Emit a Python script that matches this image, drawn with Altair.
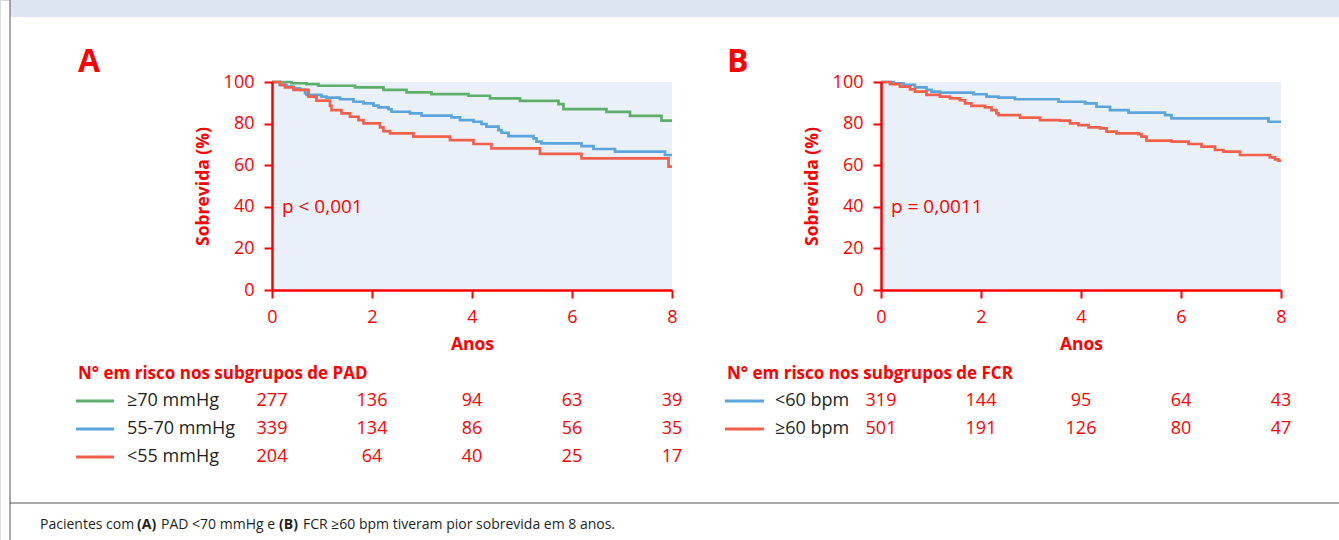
import altair as alt
import pandas as pd

# ---------------- data ----------------
# Panel A: survival by PAD subgroup (time in years, survival %)
A_GE70_T = [0, 0.39, 0.69, 0.93, 1.66, 2.23, 2.69, 3.19, 3.93, 4.36, 4.96, 5.73, 5.83, 6.69, 7.16, 7.79, 8.0]
A_GE70_S = [100, 99.4, 99.0, 98.2, 97.4, 96.2, 95.0, 94.2, 93.4, 92.1, 90.9, 89.4, 87.0, 85.6, 83.7, 81.4, 81.4]

A_55_70_T = [0, 0.16, 0.29, 0.43, 0.56, 0.66, 0.69, 0.99, 1.09, 1.36, 1.63, 1.83, 2.03, 2.13, 2.33, 2.39,
             2.76, 2.99, 3.59, 3.76, 4.03, 4.19, 4.29, 4.53, 4.59, 4.73, 5.23, 5.29, 5.39, 6.19, 6.43, 6.86, 7.86, 8.0]
A_55_70_S = [100, 98.6, 97.8, 97.0, 96.2, 94.6, 93.8, 93.0, 92.5, 91.7, 90.5, 89.7, 88.6, 87.8, 86.9, 85.7,
             84.9, 83.8, 83.0, 81.7, 80.9, 79.8, 78.5, 76.9, 75.6, 74.0, 72.9, 71.3, 70.5, 69.2, 67.8, 66.5, 64.9, 64.9]

A_LT55_T = [0, 0.16, 0.26, 0.43, 0.73, 0.89, 1.16, 1.19, 1.39, 1.56, 1.73, 1.83, 2.16, 2.23, 2.36, 2.83,
            3.56, 4.03, 4.39, 5.36, 6.19, 7.93, 8.0]
A_LT55_S = [100, 98.6, 97.4, 96.2, 93.0, 91.0, 88.5, 86.5, 84.9, 83.3, 81.7, 80.1, 78.2, 76.4, 75.3, 73.7,
            72.1, 70.2, 68.1, 65.4, 63.3, 59.3, 59.3]

# Panel B: survival by FCR subgroup
B_LT60_T = [0, 0.25, 0.45, 0.68, 0.91, 1.01, 1.18, 1.85, 2.11, 2.35, 2.68, 3.55, 4.08, 4.31, 4.58, 4.95,
            5.68, 5.81, 7.75, 8.0]
B_LT60_S = [100, 99.4, 98.6, 97.4, 96.2, 95.4, 94.9, 94.1, 93.0, 92.5, 91.7, 90.5, 89.7, 88.1, 86.5, 85.3,
            84.1, 82.5, 80.9, 80.9]

B_GE60_T = [0, 0.18, 0.38, 0.58, 0.68, 0.91, 1.18, 1.38, 1.58, 1.68, 1.81, 2.08, 2.21, 2.31, 2.35, 2.78,
            3.18, 3.58, 3.78, 3.95, 4.15, 4.38, 4.51, 4.71, 5.15, 5.21, 5.31, 5.81, 6.15, 6.41, 6.68, 6.85,
            7.18, 7.78, 7.88, 7.95, 8.0]
B_GE60_S = [100, 99.0, 97.8, 96.5, 95.4, 93.8, 93.0, 92.1, 91.3, 89.7, 88.5, 87.8, 86.5, 84.9, 84.1, 82.9,
            81.7, 81.4, 80.1, 79.3, 78.2, 77.7, 76.1, 75.3, 74.9, 73.7, 71.8, 71.3, 70.2, 68.9, 67.3, 66.5,
            64.9, 63.8, 62.8, 62.2, 62.2]

A_GROUPS = ["≥70 mmHg", "55-70 mmHg", "<55 mmHg"]
B_GROUPS = ["<60 bpm", "≥60 bpm"]
RISK_TIMES = [0, 2, 4, 6, 8]
A_RISK = [[277, 136, 94, 63, 39], [339, 134, 86, 56, 35], [204, 64, 40, 25, 17]]
B_RISK = [[319, 144, 95, 64, 43], [501, 191, 126, 80, 47]]
A_PTEXT = "p < 0,001"
B_PTEXT = "p = 0,0011"

# ---------------- styles ----------------
RED = "#FF0000"
GREEN = "#5DAF6B"
BLUE = "#5BA5DC"
SALMON = "#F2604B"
BG = "#EAF0F8"
DARK = "#231F20"
FONT = "Open Sans"
A_COLORS = [GREEN, BLUE, SALMON]
B_COLORS = [BLUE, SALMON]

W, H = 1339, 540
Y_BOT, Y_TOP = 290, 82


def series_df(groups, ts, ss):
    rows = []
    for g, t, s in zip(groups, ts, ss):
        for ti, si in zip(t, s):
            rows.append({"t": ti, "s": si, "g": g})
    return pd.DataFrame(rows)


def panel(df, groups, colors, x0, x1, ptext):
    xs = alt.Scale(domain=[0, 8], range=[x0, x1], nice=False, zero=False)
    ys = alt.Scale(domain=[0, 100], range=[Y_BOT, Y_TOP], nice=False, zero=False)
    x_axis = alt.Axis(orient="bottom", offset=Y_BOT - H, values=RISK_TIMES, grid=False,
                      domainColor=RED, domainWidth=2.5, tickColor=RED, tickWidth=2, tickSize=8,
                      labelColor=RED, labelFontSize=18, labelFont=FONT, labelPadding=10,
                      labelFlush=False,
                      title="Anos", titleColor=RED, titleFontSize=17.5, titleFont=FONT,
                      titleFontWeight="bold", titlePadding=9, zindex=1)
    y_axis = alt.Axis(orient="left", offset=-x0, values=[0, 20, 40, 60, 80, 100], grid=False,
                      domainColor=RED, domainWidth=2.5, tickColor=RED, tickWidth=2, tickSize=8,
                      labelColor=RED, labelFontSize=18, labelFont=FONT, labelPadding=10,
                      labelFlush=False,
                      title="Sobrevida (%)", titleColor=RED, titleFontSize=17.5, titleFont=FONT,
                      titleFontWeight="bold", titlePadding=11, zindex=1)
    bg = alt.Chart(pd.DataFrame({"t": [0], "t2": [8], "s": [0], "s2": [100]})).mark_rect(
        color=BG).encode(
        x=alt.X("t:Q", scale=xs, axis=x_axis), x2="t2",
        y=alt.Y("s:Q", scale=ys, axis=y_axis), y2="s2")
    lines = alt.Chart(df).mark_line(interpolate="step-after", strokeWidth=2.7).encode(
        x=alt.X("t:Q", scale=xs, axis=x_axis),
        y=alt.Y("s:Q", scale=ys, axis=y_axis),
        color=alt.Color("g:N", scale=alt.Scale(domain=groups, range=colors), legend=None),
        detail="g:N")
    ptxt = alt.Chart(pd.DataFrame({"t": [0.2], "s": [40], "label": [ptext]})).mark_text(
        align="left", baseline="middle", fontSize=19, font=FONT, color=RED).encode(
        x=alt.X("t:Q", scale=xs, axis=x_axis), y=alt.Y("s:Q", scale=ys, axis=y_axis), text="label:N")
    return alt.layer(bg, lines, ptxt)


def risk_table(groups, colors, risk, x0, x1, title, title_x, line_x0, line_x1, label_x, y_first, y_last):
    xs = alt.Scale(domain=[0, 8], range=[x0, x1], nice=False, zero=False)
    ysc = alt.Scale(type="point", domain=groups, range=[y_first, y_last], padding=0)
    rows = []
    for g, vals in zip(groups, risk):
        for t, v in zip(RISK_TIMES, vals):
            rows.append({"t": t, "g": g, "n": str(v)})
    df = pd.DataFrame(rows)
    nums = alt.Chart(df).mark_text(fontSize=18, font=FONT, color=RED, baseline="middle").encode(
        x=alt.X("t:Q", scale=xs, axis=None), y=alt.Y("g:N", scale=ysc, axis=None), text="n:N")
    gdf = pd.DataFrame({"g": groups})
    leg_lines = alt.Chart(gdf).mark_rule(strokeWidth=3).encode(
        x=alt.value(line_x0), x2=alt.value(line_x1),
        y=alt.Y("g:N", scale=ysc, axis=None),
        color=alt.Color("g:N", scale=alt.Scale(domain=groups, range=colors), legend=None))
    leg_text = alt.Chart(gdf).mark_text(fontSize=18, font=FONT, color=DARK, align="left",
                                        baseline="middle").encode(
        x=alt.value(label_x), y=alt.Y("g:N", scale=ysc, axis=None), text="g:N")
    ttl = alt.Chart(pd.DataFrame({"label": [title]})).mark_text(
        fontSize=17, font=FONT, fontWeight="bold", color=RED, align="left", baseline="middle").encode(
        x=alt.value(title_x), y=alt.value(374), text="label:N")
    return alt.layer(nums, leg_lines, leg_text, ttl).resolve_scale(color="independent")


one = pd.DataFrame({"a": [0]})

band = alt.Chart(one).mark_rect(color="#DCE6F2").encode(
    x=alt.value(10), x2=alt.value(W), y=alt.value(0), y2=alt.value(17))
vline = alt.Chart(one).mark_rule(color="#555555", strokeWidth=1).encode(
    x=alt.value(10), y=alt.value(0), y2=alt.value(H))
hline = alt.Chart(one).mark_rule(color="#555555", strokeWidth=1).encode(
    x=alt.value(10), x2=alt.value(W), y=alt.value(503))

letters = alt.layer(
    alt.Chart(pd.DataFrame({"l": ["A"]})).mark_text(fontSize=32, font=FONT, fontWeight="bold",
                                                    color=RED, align="left", baseline="alphabetic").encode(
        x=alt.value(78), y=alt.value(72), text="l:N"),
    alt.Chart(pd.DataFrame({"l": ["B"]})).mark_text(fontSize=32, font=FONT, fontWeight="bold",
                                                    color=RED, align="left", baseline="alphabetic").encode(
        x=alt.value(727), y=alt.value(72), text="l:N"),
)

FOOT_SEGS = ["Pacientes com", "(A)", "PAD <70 mmHg e", "(B)", "FCR ≥60 bpm tiveram pior sobrevida em 8 anos."]
FOOT_BOLD = [False, True, False, True, False]
FOOT_X = [40, 137, 161, 279, 303]
foot_layers = []
for seg, b, xp in zip(FOOT_SEGS, FOOT_BOLD, FOOT_X):
    foot_layers.append(
        alt.Chart(pd.DataFrame({"s": [seg]})).mark_text(
            fontSize=14, font=FONT, fontWeight="bold" if b else "normal", color=DARK,
            align="left", baseline="middle").encode(x=alt.value(xp), y=alt.value(525), text="s:N"))
footer = alt.layer(*foot_layers)

dfA = series_df(A_GROUPS, [A_GE70_T, A_55_70_T, A_LT55_T], [A_GE70_S, A_55_70_S, A_LT55_S])
dfB = series_df(B_GROUPS, [B_LT60_T, B_GE60_T], [B_LT60_S, B_GE60_S])

panelA = panel(dfA, A_GROUPS, A_COLORS, 272, 672, A_PTEXT)
panelB = panel(dfB, B_GROUPS, B_COLORS, 881, 1281, B_PTEXT)
tableA = risk_table(A_GROUPS, A_COLORS, A_RISK, 272, 672, "N° em risco nos subgrupos de PAD",
                    78, 76, 114, 127, 401, 457)
tableB = risk_table(B_GROUPS, B_COLORS, B_RISK, 881, 1281, "N° em risco nos subgrupos de FCR",
                    727, 725, 764, 775, 401, 429)

chart = alt.layer(band, vline, hline, panelA, panelB, tableA, tableB, letters, footer).resolve_scale(
    x="independent", y="independent", color="independent"
).properties(
    width=W, height=H, autosize=alt.AutoSizeParams(type="none"), padding=0
).configure_view(stroke=None).configure(font=FONT)

chart.save("out.html", embed_options={"renderer": "svg", "actions": False})
